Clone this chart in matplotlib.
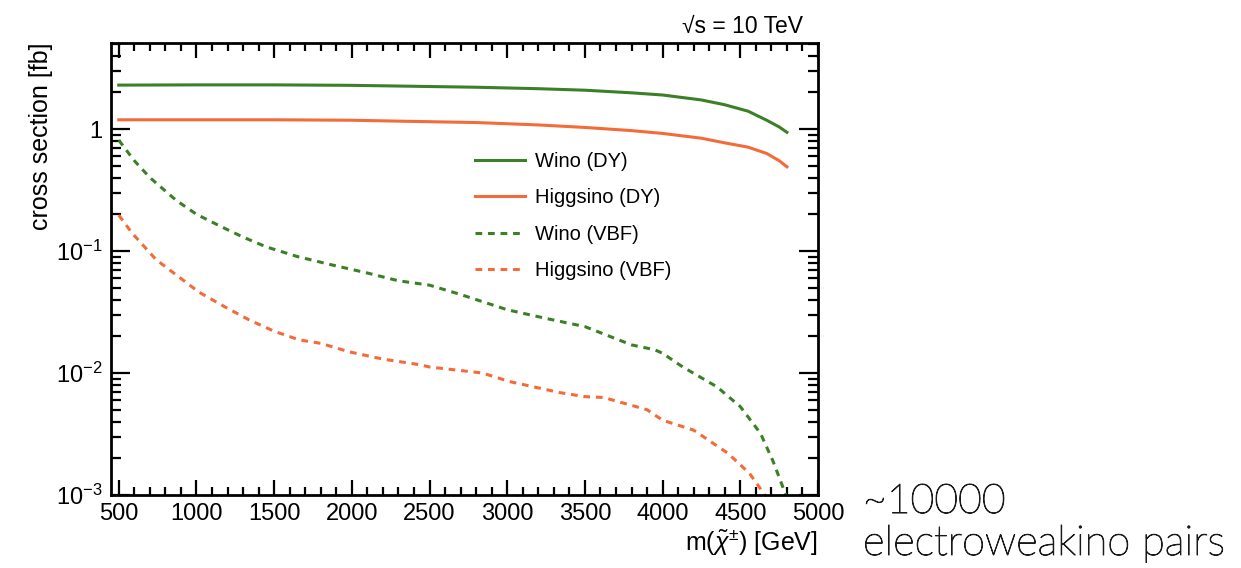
import matplotlib
matplotlib.use("Agg")
import matplotlib.pyplot as plt
import matplotlib.ticker as mticker
import matplotlib.patheffects as pe
import numpy as np

plt.rcParams['font.family'] = ['Liberation Sans', 'DejaVu Sans']
plt.rcParams['mathtext.fontset'] = 'custom'
plt.rcParams['mathtext.rm'] = 'Liberation Sans'
plt.rcParams['mathtext.it'] = 'Liberation Sans:italic'

# chargino mass [GeV] and cross sections [fb], 10 TeV
m_dy = [500, 1000, 1500, 2000, 2300, 2800, 3200, 3500, 3800, 4000, 4250, 4400, 4550, 4670, 4750, 4800]
wino_dy = [2.29, 2.30, 2.30, 2.28, 2.25, 2.20, 2.14, 2.08, 1.98, 1.90, 1.73, 1.58, 1.40, 1.18, 1.04, 0.94]
higgsino_dy = [1.19, 1.19, 1.19, 1.18, 1.16, 1.13, 1.08, 1.03, 0.97, 0.92, 0.84, 0.77, 0.71, 0.63, 0.55, 0.49]

m_wino_vbf = [500, 600, 700, 870, 1000, 1165, 1300, 1450, 1650, 1870, 2100, 2300, 2500, 2700, 3000, 3250,
              3500, 3800, 3950, 4000, 4130, 4350, 4500, 4630, 4710, 4800]
wino_vbf = [0.81, 0.55, 0.40, 0.26, 0.20, 0.157, 0.13, 0.108, 0.090, 0.077, 0.066, 0.057, 0.0525, 0.044,
            0.033, 0.028, 0.024, 0.017, 0.0155, 0.0145, 0.0112, 0.0077, 0.0053, 0.0032, 0.0019, 0.00095]

m_higgsino_vbf = [500, 584, 740, 1016, 1180, 1340, 1500, 1660, 1800, 1984, 2200, 2435, 2500, 2840, 3016,
                  3340, 3500, 3620, 3900, 4000, 4200, 4420, 4560, 4670]
higgsino_vbf = [0.197, 0.141, 0.085, 0.046, 0.035, 0.0272, 0.022, 0.0187, 0.0175, 0.0149, 0.013, 0.0117,
                0.0112, 0.0100, 0.0085, 0.0069, 0.0064, 0.0063, 0.0050, 0.0041, 0.0034, 0.0022, 0.0015, 0.00095]

green = '#3b8026'
orange = '#f26b38'
dash = (0, (2.2, 1.9))

fig = plt.figure(figsize=(12.41, 5.68), dpi=100)
ax = fig.add_axes([111 / 1241, 1 - 495 / 568, (818 - 111) / 1241, (495 - 43) / 568])

ax.plot(m_dy, wino_dy, color=green, lw=2.2, label='Wino (DY)')
ax.plot(m_dy, higgsino_dy, color=orange, lw=2.2, label='Higgsino (DY)')
ax.plot(m_wino_vbf, wino_vbf, color=green, lw=2.2, ls=dash, label='Wino (VBF)')
ax.plot(m_higgsino_vbf, higgsino_vbf, color=orange, lw=2.2, ls=dash, label='Higgsino (VBF)')

ax.set_yscale('log')
ax.set_xlim(450, 5000)
ax.set_ylim(1e-3, 5.07)

ax.xaxis.set_major_locator(mticker.MultipleLocator(500))
ax.xaxis.set_minor_locator(mticker.MultipleLocator(100))
ax.yaxis.set_major_locator(mticker.FixedLocator([1e-3, 1e-2, 1e-1, 1]))
ax.yaxis.set_major_formatter(mticker.FixedFormatter(['$10^{-3}$', '$10^{-2}$', '$10^{-1}$', '1']))
ax.yaxis.set_minor_locator(mticker.LogLocator(base=10, subs=np.arange(2, 10)))
ax.yaxis.set_minor_formatter(mticker.NullFormatter())

ax.tick_params(which='both', direction='in', top=True, right=True, width=1.6, color='black')
ax.tick_params(axis='x', which='major', length=11, labelsize=17, pad=6)
ax.tick_params(axis='x', which='minor', length=6)
ax.tick_params(axis='y', which='major', length=14, labelsize=17, pad=6)
ax.tick_params(axis='y', which='minor', length=7)
for sp in ax.spines.values():
    sp.set_linewidth(2)

ax.set_xlabel(r'm($\tilde{\chi}^{\pm}$) [GeV]', fontsize=18, loc='right', labelpad=1)
ax.set_ylabel('cross section [fb]', fontsize=18, loc='top', labelpad=2)
ax.text(803 / 1241, 1 - 33 / 568, '\u221as = 10 TeV', transform=fig.transFigure,
        ha='right', va='baseline', fontsize=16.5)

ax.legend(loc='center left', bbox_to_anchor=(475 / 1241, 1 - 216 / 568), bbox_transform=fig.transFigure,
          frameon=False, fontsize=14.5, borderpad=0, borderaxespad=0,
          handlelength=2.5, handletextpad=0.5, labelspacing=0.85)

# side note in a thin sans face, stroked a little so it doesn't wash out
note_fx = [pe.withStroke(linewidth=0.7, foreground='#1a1a1a')]
fig.text(863 / 1241, 1 - 513 / 568, '~10000', fontsize=29.5, family='Lato', fontweight='light',
         color='#1a1a1a', ha='left', va='baseline', path_effects=note_fx)
fig.text(863 / 1241, 1 - 555 / 568, 'electroweakino pairs', fontsize=30, family='Lato', fontweight='light',
         color='#1a1a1a', ha='left', va='baseline', path_effects=note_fx)

fig.savefig('out.png', dpi=100)
